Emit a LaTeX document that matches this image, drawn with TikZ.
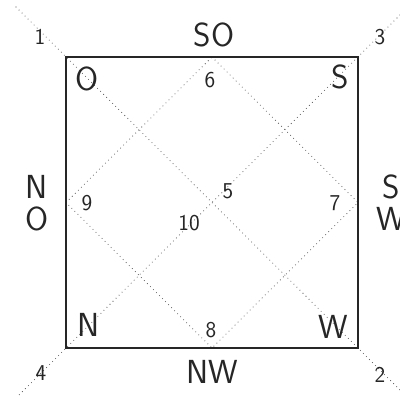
\documentclass[tikz,border=0pt]{standalone}
\begin{document}
\begin{tikzpicture}[x=0.75pt,y=-0.75pt,
  frame/.style={line width=1.6pt, draw=black!85},
  dotline/.style={draw=black!65, line width=0.8pt, line cap=round, dash pattern=on 0pt off 3.2pt},
  big/.style={font=\sffamily\fontsize{25}{25}\selectfont, text=black!85, inner sep=0pt},
  num/.style={font=\sffamily\fontsize{17}{17}\selectfont, text=black!85, inner sep=0pt}]
\useasboundingbox (0,0) rectangle (400,397);
% corners and midpoints
\coordinate (TL) at (66,57);
\coordinate (TR) at (358,57);
\coordinate (BR) at (358,348);
\coordinate (BL) at (66,348);
\coordinate (T) at (212,57);
\coordinate (R) at (358,202.5);
\coordinate (B) at (212,348);
\coordinate (L) at (66,202.5);
\coordinate (e1) at (16,7);
\coordinate (e2) at (400,390);
\coordinate (e3) at (400,15);
\coordinate (e4) at (18,396);
% dotted lines
\draw[dotline] (e1) -- (e2);
\draw[dotline] (e3) -- (e4);
\draw[dotline] (T) -- (R) -- (B) -- (L) -- cycle;
% frame
\draw[frame] (TL) rectangle (BR);
% outer labels
\node[num] (n1) at (40,37) {1};
\node[num] (n3) at (380,37) {3};
\node[num] (n4) at (41,373) {4};
\node[num] (n2) at (380,375) {2};
\node[big] (so) at (214,35) {SO};
\node[big] (nw) at (212,372) {NW};
\node[big] (lN) at (37,186.5) {N};
\node[big] (lO) at (37,218.5) {O};
\node[big] (rS) at (391,186.5) {S};
\node[big] (rW) at (391,218.5) {W};
% inner corner labels
\node[big] (cO) at (87,79) {O};
\node[big] (cS) at (340,77) {S};
\node[big] (cN) at (89,325) {N};
\node[big] (cW) at (333,327) {W};
% inner numbers
\node[num] (n6) at (210,80) {6};
\node[num] (n8) at (211,330) {8};
\node[num] (n9) at (87,203) {9};
\node[num] (n7) at (335,203) {7};
\node[num] (n5) at (228,191) {5};
\node[num] (n10) at (189,223) {10};
\end{tikzpicture}
\end{document}
